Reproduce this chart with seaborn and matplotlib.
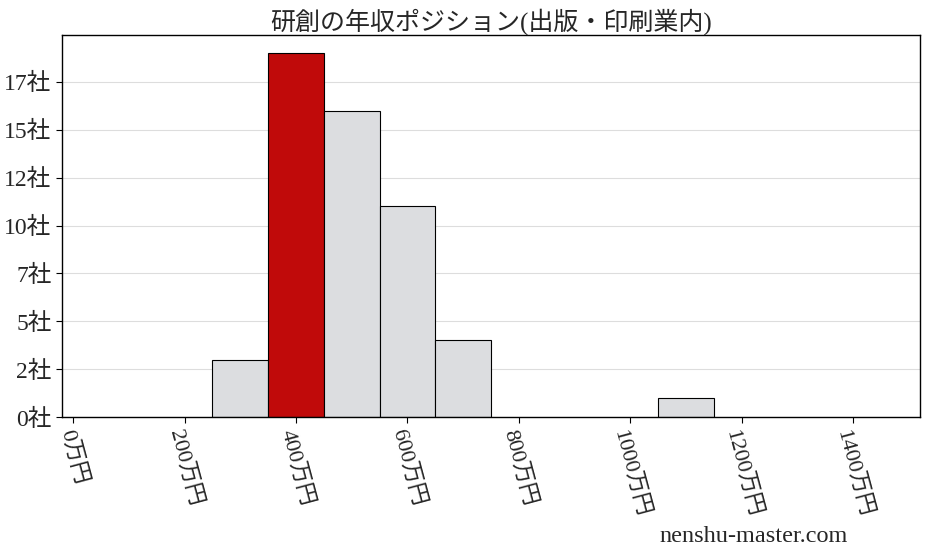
import numpy as np
import pandas as pd
import matplotlib
matplotlib.use("Agg")
import matplotlib.pyplot as plt
import seaborn as sns

# Data
bin_centers = [300, 400, 500, 600, 700, 1100]
counts = [3, 19, 16, 11, 4, 1]
highlight = 400
bin_edges = list(range(250, 1251, 100))
x_ticks = [0, 200, 400, 600, 800, 1000, 1200, 1400]
y_ticks = [0, 2.5, 5, 7.5, 10, 12.5, 15, 17.5]
title = "研創の年収ポジション(出版・印刷業内)"

sns.set_style("white")
plt.rcParams['font.family'] = ['Liberation Serif', 'Noto Sans CJK JP', 'DejaVu Sans']

df = pd.DataFrame({"income": bin_centers, "count": counts})

fig = plt.figure(figsize=(9.28, 5.57), dpi=100)
ax = fig.add_axes([62 / 928, 1 - 417 / 557, (920 - 62) / 928, (417 - 35) / 557])

sns.histplot(data=df, x="income", weights="count", bins=bin_edges,
             color="#dcdde0", edgecolor="black", linewidth=0.8, alpha=1, ax=ax)

for p in ax.patches:
    if p.get_x() < highlight < p.get_x() + p.get_width():
        p.set_facecolor("#c00a0a")
    if p.get_height() == 0:
        p.set_visible(False)

ax.set_xlim(-20, 1520)
ax.set_ylim(0, max(counts) * 1.05)
ax.set_yticks(y_ticks)
ax.set_yticklabels([f"{int(v)}社" for v in y_ticks], fontsize=17)
ax.set_xticks(x_ticks)
ax.set_xticklabels([f"{v}万円" for v in x_ticks], fontsize=16, rotation=-75)
ax.tick_params(axis="both", length=4, width=0.8, direction="out", color="black")
ax.tick_params(axis="both", bottom=True, left=True)
ax.yaxis.grid(True, color="#dddddd", linewidth=0.8)
ax.set_axisbelow(True)
ax.set_xlabel("")
ax.set_ylabel("")
for s in ax.spines.values():
    s.set_color("black")
    s.set_linewidth(1)

ax.set_title(title, fontsize=18, pad=4)
fig.text(848 / 928, 1 - 537 / 557, "nenshu-master.com", fontsize=17.5,
         ha="right", va="center")

plt.savefig("out.png", dpi=100)
